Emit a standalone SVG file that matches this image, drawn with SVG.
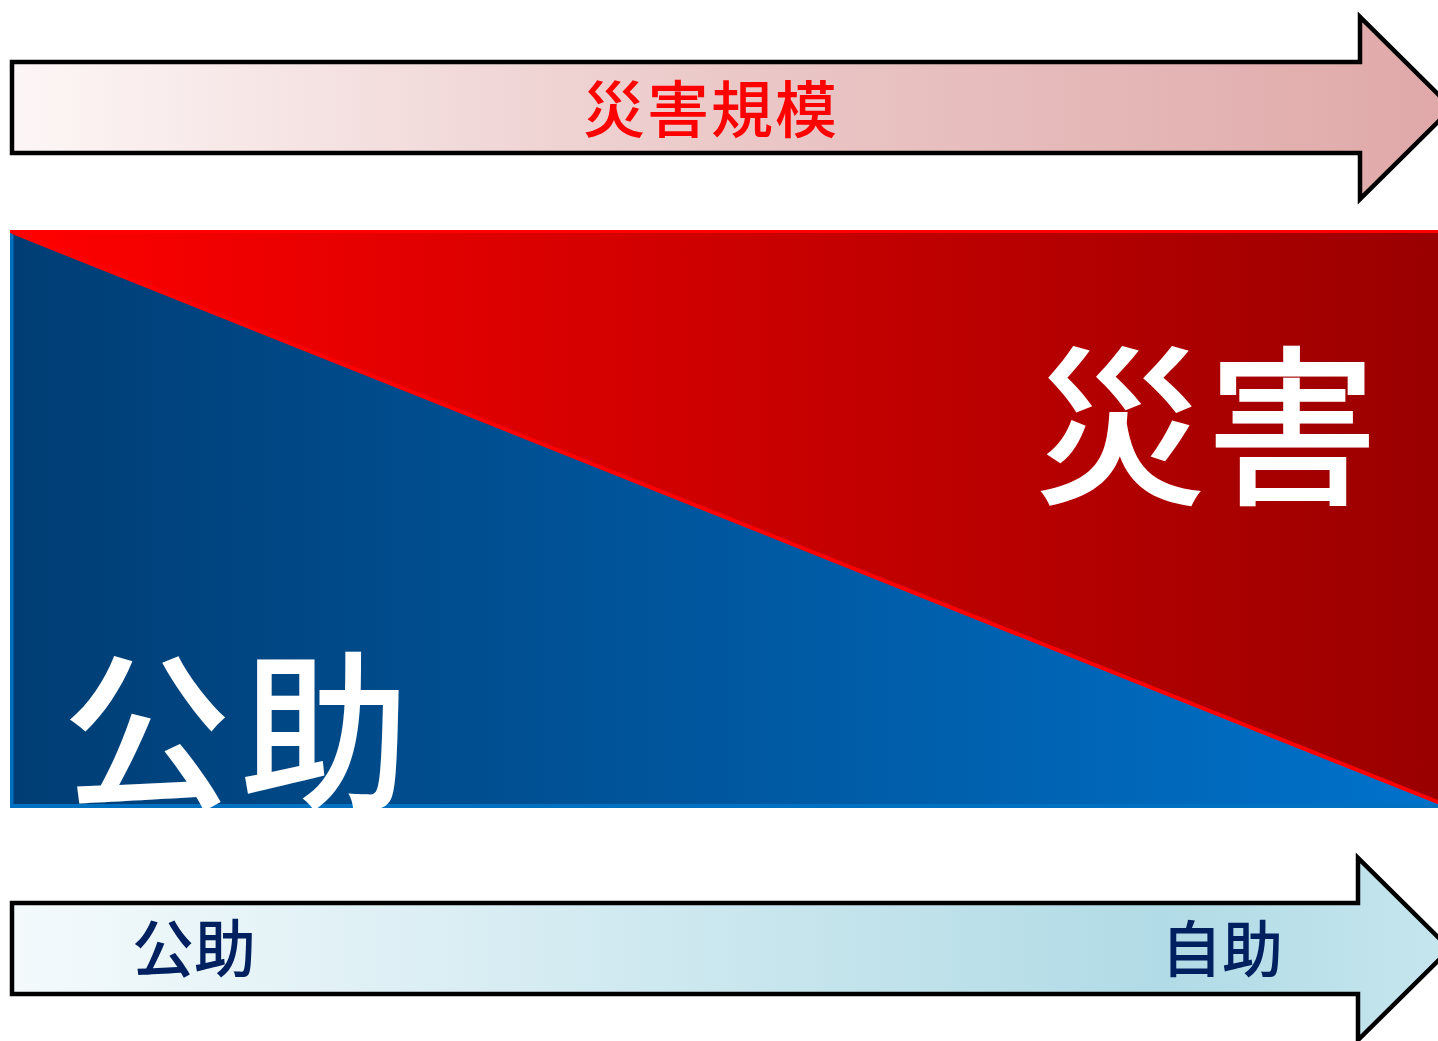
<svg xmlns="http://www.w3.org/2000/svg" width="1438" height="1041" viewBox="0 0 1438 1041">
<style>
.cjk{font-family:"Noto Sans CJK JP","Noto Sans CJK SC",sans-serif;font-weight:500;}
.arrow{stroke:#000;stroke-width:4.5;stroke-linejoin:miter;}
</style>
<defs>
<linearGradient id="gTop" x1="0" y1="0" x2="1" y2="0">
<stop offset="0" stop-color="#fdf6f6"/>
<stop offset="0.5" stop-color="#ebc8c8"/>
<stop offset="1" stop-color="#e0a8a8"/>
</linearGradient>
<linearGradient id="gBot" x1="0" y1="0" x2="1" y2="0">
<stop offset="0" stop-color="#f4fafc"/>
<stop offset="0.8" stop-color="#b1dbe6"/>
<stop offset="1" stop-color="#c6e6ee"/>
</linearGradient>
<linearGradient id="gBlue" x1="0" y1="0" x2="1" y2="0">
<stop offset="0" stop-color="#003d74"/>
<stop offset="1" stop-color="#0072cb"/>
</linearGradient>
<linearGradient id="gRed" x1="0" y1="0" x2="1" y2="0">
<stop offset="0" stop-color="#ff0000"/>
<stop offset="1" stop-color="#9a0000"/>
</linearGradient>
</defs>
<g id="scale-arrow">
<path class="arrow" fill="url(#gTop)" d="M12,62 H1360 V17 L1452,108 L1360,199 V153 H12 Z"/>
<text class="cjk" x="711" y="133" font-size="62" fill="#ff0000" text-anchor="middle" letter-spacing="2">災害規模</text>
</g>
<g id="panel">
<rect x="10" y="231" width="1430" height="577" fill="url(#gBlue)"/>
<rect x="10" y="231" width="3.5" height="577" fill="#0070c0"/>
<rect x="10" y="804" width="1430" height="4" fill="#0070c0"/>
<polygon points="12,231 1440,231 1440,803" fill="url(#gRed)"/>
<line x1="12" y1="232" x2="1440" y2="803" stroke="#ff0000" stroke-width="4"/>
<rect x="10" y="230" width="1430" height="3" fill="#ff0000"/>
<text class="cjk" x="1034" y="491" font-size="172" fill="#ffffff">災害</text>
<text class="cjk" x="62" y="796" font-size="170" fill="#ffffff" letter-spacing="8">公助</text>
</g>
<g id="help-arrow">
<path class="arrow" fill="url(#gBot)" d="M12,903 H1358 V858 L1450,949 L1358,1040 V994 H12 Z"/>
<text class="cjk" x="132" y="972" font-size="62" fill="#002060">公助</text>
<text class="cjk" x="1161" y="972" font-size="61" fill="#002060">自助</text>
</g>
</svg>
